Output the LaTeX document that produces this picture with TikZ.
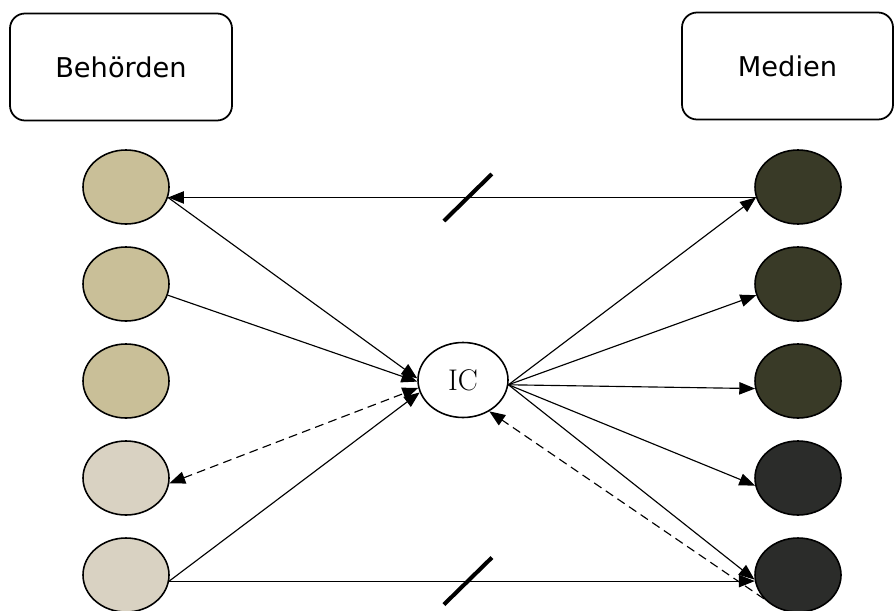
\documentclass[tikz,border=0pt]{standalone}
\usepackage{fontspec}
\newfontfamily\boxfont{DejaVu Sans}
\usetikzlibrary{arrows.meta,shapes.geometric}

\definecolor{behlight}{HTML}{D9D2C2}
\definecolor{behtan}{HTML}{C9BF98}
\definecolor{medolive}{HTML}{393A27}
\definecolor{meddark}{HTML}{2B2C2A}

\begin{document}
\begin{tikzpicture}[
    >={Triangle[length=9pt,width=7pt]},
    group/.style={draw, line width=1pt, rounded corners=0.3cm,
      minimum height=2.14cm, font=\boxfont\fontsize{15.5}{18}\selectfont},
    actor/.style={ellipse, draw, line width=0.9pt, inner sep=0pt,
      minimum width=1.72cm, minimum height=1.48cm},
    link/.style={line width=0.65pt},
    dashlink/.style={link, dash pattern=on 5pt off 3pt},
    cutmark/.style={line width=2.3pt}
  ]
  \useasboundingbox (0,0) rectangle (17.88,12.2);

  % headers
  \node[group, minimum width=4.44cm] (beh) at (2.42,10.86) {Behörden};
  \node[group, minimum width=4.22cm] (med) at (15.75,10.88) {Medien};

  % Behoerden
  \node[actor, fill=behtan]   (l1) at (2.52,8.46) {};
  \node[actor, fill=behtan]   (l2) at (2.52,6.52) {};
  \node[actor, fill=behtan]   (l3) at (2.52,4.58) {};
  \node[actor, fill=behlight] (l4) at (2.52,2.64) {};
  \node[actor, fill=behlight] (l5) at (2.52,0.70) {};

  % Medien
  \node[actor, fill=medolive] (r1) at (15.96,8.46) {};
  \node[actor, fill=medolive] (r2) at (15.96,6.52) {};
  \node[actor, fill=medolive] (r3) at (15.96,4.58) {};
  \node[actor, fill=meddark]  (r4) at (15.96,2.64) {};
  \node[actor, fill=meddark]  (r5) at (15.96,0.70) {};

  % IC
  \node[ellipse, draw, line width=0.9pt, inner sep=0pt,
    minimum width=1.8cm, minimum height=1.5cm,
    font=\fontsize{17}{20}\selectfont] (ic) at (9.26,4.6) {IC};

  % direct lines, cut
  \draw[link,->] (r1.194) -- coordinate[pos=0.49] (cuttop) (l1.-14);
  \draw[cutmark] ([shift={(-0.48,-0.47)}]cuttop) -- ([shift={(0.48,0.47)}]cuttop);
  \draw[link,->] (l5.-8) -- coordinate[pos=0.51] (cutbot) (r5.188);
  \draw[cutmark] ([shift={(-0.48,-0.47)}]cutbot) -- ([shift={(0.48,0.47)}]cutbot);

  % Behoerden to IC
  \draw[link,->] (l1.-14) -- (ic.178);
  \draw[link,->] (l2.-15) -- (ic.182);
  \draw[dashlink,<->] (l4.-7) -- (ic.190);
  \draw[link,->] (l5.-8) -- (ic.196);

  % IC to Medien
  \draw[link,->] (ic.-6) -- (r1.194);
  \draw[link,->] (ic.-6) -- (r2.195);
  \draw[link,->] (ic.-6) -- (r3.190);
  \draw[link,->] (ic.-6) -- (r4.190);
  \draw[link,->] (ic.-6) -- (r5.186);
  \draw[dashlink,->] (r5.215) -- (ic.-50);
\end{tikzpicture}
\end{document}
